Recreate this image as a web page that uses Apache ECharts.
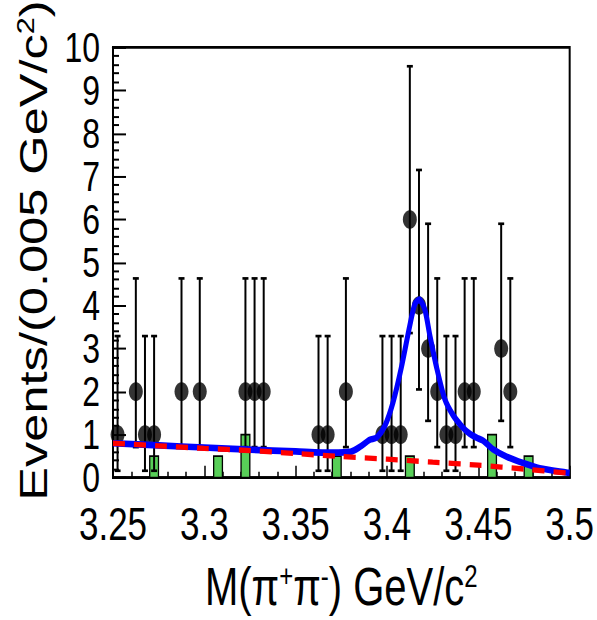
<!DOCTYPE html>
<html><head><meta charset="utf-8">
<script src="https://cdn.jsdelivr.net/npm/echarts@6/dist/echarts.min.js"></script>
<style>
html,body{margin:0;padding:0;background:#fff;overflow:hidden;}
#wrap{width:597px;height:620px;overflow:hidden;}
#c{width:597px;height:466px;transform:scaleY(1.3305);transform-origin:0 0;}
</style></head><body><div id="wrap"><div id="c"></div></div>
<script>
// ---- data ----
const xTickLabels = ['3.25','3.3','3.35','3.4','3.45','3.5'];
const yTickLabels = ['0','1','2','3','4','5','6','7','8','9','10'];

// data points (bin centres, counts) with asymmetric error bars
const pointX = [3.2525,3.2625,3.2675,3.2725,3.2875,3.2975,3.3225,3.3275,3.3325,3.3625,3.3675,3.3775,3.3975,3.4025,3.4075,3.4125,3.4175,3.4225,3.4275,3.4325,3.4375,3.4425,3.4475,3.4625,3.4675];
const pointY = [1,2,1,1,2,2,2,2,2,1,1,2,1,1,1,6,4,3,2,1,1,2,2,3,2];
const errLow = [0.16,0.71,0.16,0.16,0.71,0.71,0.71,0.71,0.71,0.16,0.16,0.71,0.16,0.16,0.16,3.36,2.05,1.32,0.71,0.16,0.16,0.71,0.71,1.32,0.71];
const errHigh = [3.29,4.63,3.29,3.29,4.63,4.63,4.63,4.63,4.63,3.29,3.29,4.63,3.29,3.29,3.29,9.56,7.15,5.9,4.63,3.29,3.29,4.63,4.63,5.9,4.63];

// green background histogram
const bgX = [3.2725,3.3075,3.3225,3.3725,3.4125,3.4575,3.4775];
const bgY = [0.5,0.5,1,0.5,0.5,1,0.5];

// total fit (blue)
const fitX = [3.25,3.275,3.30,3.325,3.35,3.37,3.38,3.385,3.3906,3.3943,3.3988,3.4033,3.4079,3.4125,3.4152,3.4176,3.4207,3.4234,3.4271,3.4316,3.4362,3.4416,3.4453,3.449,3.4526,3.458,3.4654,3.4745,3.4836,3.4982,3.5];
const fitY = [0.80,0.75,0.70,0.65,0.61,0.58,0.60,0.71,0.88,0.93,1.20,1.75,2.57,3.54,4.03,4.14,3.91,3.32,2.57,1.83,1.45,1.16,1.02,0.93,0.86,0.66,0.49,0.34,0.22,0.12,0.11];

// background fit (red dashed)
const bkgX = [3.25,3.275,3.30,3.325,3.35,3.375,3.40,3.425,3.45,3.475,3.50];
const bkgY = [0.80,0.74,0.68,0.63,0.56,0.49,0.43,0.36,0.29,0.20,0.10];

// ---- build ----
const zip = (a,b)=>a.map((v,i)=>[v,b[i]]);
const FONT = 'Liberation Sans, Arial, Helvetica, sans-serif';
const chart = echarts.init(document.getElementById('c'), null, {renderer:'svg'});

const option = {
  animation:false,
  backgroundColor:'#fff',
  grid:{left:113,right:27,top:28.5,bottom:101.5,show:true,borderColor:'#000',borderWidth:2,backgroundColor:'transparent'},
  xAxis:{
    type:'value',min:3.25,max:3.5,interval:0.05,
    axisLine:{onZero:false,lineStyle:{color:'#000',width:2}},
    axisTick:{inside:true,length:9,lineStyle:{color:'#000',width:1.5}},
    minorTick:{show:true,splitNumber:5,length:4.5,lineStyle:{color:'#000',width:1.5}},
    splitLine:{show:false},
    axisLabel:{color:'#000',fontSize:35,lineHeight:30,fontFamily:FONT,margin:20,
      showMinLabel:true,showMaxLabel:true,hideOverlap:false,
      formatter:(v)=>{const i=Math.round((v-3.25)/0.05);return xTickLabels[i]!==undefined?xTickLabels[i]:'';}},
    name:'M(π{s|+}π{s|-}) GeV/c{s|2}',
    nameLocation:'middle',nameGap:62,
    nameTextStyle:{color:'#000',fontSize:40,fontFamily:FONT,
      rich:{s:{fontSize:24,fontFamily:FONT,color:'#000',verticalAlign:'top'}}}
  },
  yAxis:{
    type:'value',min:0,max:10,interval:1,
    axisLine:{onZero:false,lineStyle:{color:'#000',width:2}},
    axisTick:{inside:true,length:13,lineStyle:{color:'#000',width:1.5}},
    minorTick:{show:true,splitNumber:5,length:6,lineStyle:{color:'#000',width:1.5}},
    splitLine:{show:false},
    axisLabel:{color:'#000',fontSize:32,lineHeight:28,fontFamily:FONT,margin:13,
      showMinLabel:true,showMaxLabel:true,hideOverlap:false,
      formatter:(v)=>yTickLabels[Math.round(v)]},
    name:'Events/(0.005 GeV/c{s|2})',
    nameLocation:'middle',nameGap:60,
    nameTextStyle:{color:'#000',fontSize:38,fontFamily:FONT,padding:[0,0,0,18],
      rich:{s:{fontSize:23,fontFamily:FONT,color:'#000',verticalAlign:'top'}}}
  },
  series:[
    {
      type:'custom',z:1,
      data:zip(bgX,bgY),
      renderItem:(params,api)=>{
        const x=api.value(0), y=api.value(1);
        const p0=api.coord([x-0.0024,y]);
        const p1=api.coord([x+0.0024,0]);
        return {type:'rect',shape:{x:p0[0],y:p0[1],width:p1[0]-p0[0],height:p1[1]-p0[1]},
          style:{fill:'#58cf58',stroke:'#000',lineWidth:1.3}};
      }
    },
    {
      type:'custom',z:2,
      data:pointX.map((x,i)=>[x,errLow[i],errHigh[i]]),
      renderItem:(params,api)=>{
        const x=api.value(0);
        const lo=api.coord([x,api.value(1)]);
        const hi=api.coord([x,api.value(2)]);
        const cw=3;
        const st={stroke:'#000',lineWidth:2};
        return {type:'group',children:[
          {type:'line',shape:{x1:lo[0],y1:lo[1],x2:hi[0],y2:hi[1]},style:st},
          {type:'line',shape:{x1:lo[0]-cw,y1:lo[1],x2:lo[0]+cw,y2:lo[1]},style:st},
          {type:'line',shape:{x1:hi[0]-cw,y1:hi[1],x2:hi[0]+cw,y2:hi[1]},style:st}
        ]};
      }
    },
    {
      type:'scatter',z:3,symbol:'circle',symbolSize:14,
      itemStyle:{color:'#000'},
      data:zip(pointX,pointY)
    },
    {
      type:'line',z:4,showSymbol:false,smooth:0.25,
      lineStyle:{color:'#0000ff',width:5},
      data:zip(fitX,fitY)
    },
    {
      type:'line',z:5,showSymbol:false,smooth:0.3,
      lineStyle:{color:'#ff0000',width:4,type:[12,9]},
      data:zip(bkgX,bkgY)
    }
  ]
};
chart.setOption(option);
</script>
</body></html>
